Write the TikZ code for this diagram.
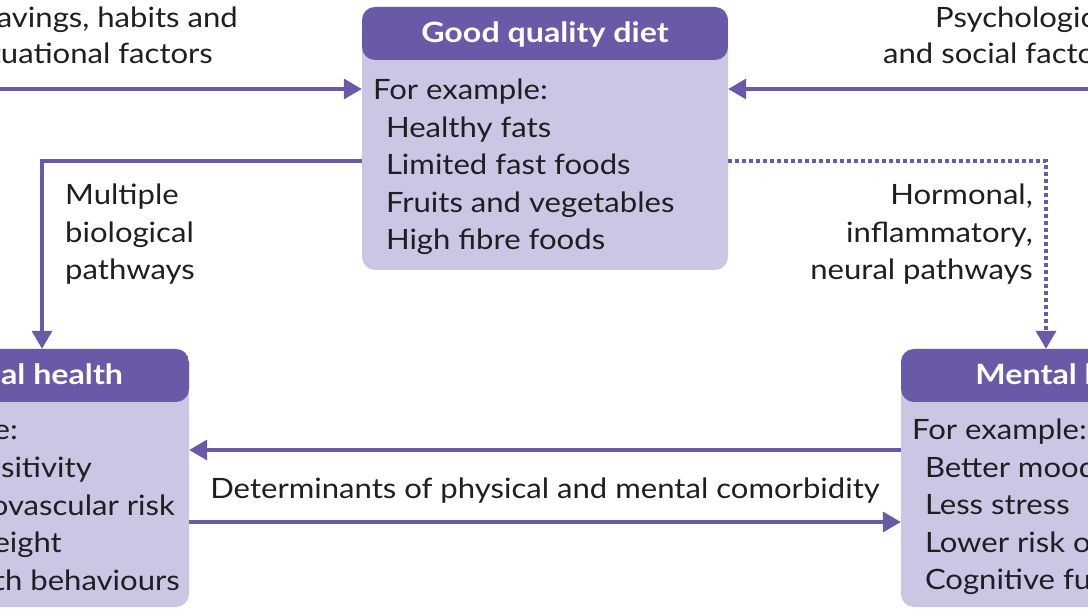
\documentclass[tikz,border=0pt]{standalone}
\usepackage{fontspec}
\setmainfont{Lato}[FakeStretch=1.11, BoldFeatures={FakeStretch=1.15}]
\usetikzlibrary{arrows.meta,calc}
\definecolor{diethead}{RGB}{106,89,166}
\definecolor{dietbody}{RGB}{204,198,228}
\definecolor{txt}{RGB}{30,30,35}

\begin{document}
\begin{tikzpicture}
  [
    x=1pt, y=-1pt,
    every node/.style={inner sep=0pt, text=txt, font=\fontsize{28}{36}\selectfont},
    box/.style 2 args={fill=dietbody, rounded corners=13pt, minimum width=#1, minimum height=#2,
      path picture={\fill[diethead] (path picture bounding box.north west) rectangle ([yshift=-53pt]path picture bounding box.north east);}},
    title/.style={anchor=base, text=white, font=\fontsize{28}{36}\selectfont\bfseries},
    lbl/.style={anchor=base west},
    rlbl/.style={anchor=base east},
    link/.style={draw=diethead, line width=3.5pt, -{Triangle[length=18pt,width=20pt]}},
    dots/.style={link, dash pattern=on 4pt off 3pt}
  ]
  \useasboundingbox (0,0) rectangle (1088,612);
  \clip (0,0) rectangle (1088,612);

  % boxes
  \node [box={366pt}{263pt}] (diet) at (545,138.5) {};
  \node [box={354pt}{258pt}] (phys) at (12,478) {};
  \node [box={354pt}{258pt}] (ment) at (1078,478) {};

  \node [title] (dietT) at ([yshift=-36pt]diet.north) {Good quality diet};
  \node [title] (physT) at ([xshift=4pt,yshift=-36pt]phys.north) {Physical health};
  \node [title] (mentT) at ([xshift=-3pt,yshift=-36pt]ment.north) {Mental health};

  \node [lbl] (dietE) at ([xshift=11pt,yshift=-93pt]diet.north west) {For example:};
  \foreach \txt [count=\i] in {Healthy fats, Limited fast foods, Fruits and vegetables, High fibre foods}{
    \node [lbl] (diet\i) at ([xshift=24pt,yshift=-93pt-37.5pt*\i]diet.north west) {\txt};
  }
  \node [rlbl] (physE) at (18,440) {For example:};
  \foreach \txt/\xe [count=\i] in {Insulin sensitivity/92, Lower cardiovascular risk/175, Healthy weight/62, Better health behaviours/180}{
    \node [rlbl] (phys\i) at (\xe,440+37.5*\i) {\txt};
  }
  \node [lbl] (mentE) at ([xshift=11pt,yshift=-91pt]ment.north west) {For example:};
  \foreach \txt [count=\i] in {Better mood, Less stress, Lower risk of depression, Cognitive function}{
    \node [lbl] (ment\i) at ([xshift=24pt,yshift=-91pt-37.5pt*\i]ment.north west) {\txt};
  }

  % outside factors
  \node [rlbl] (crav1) at (238,28) {Cravings, habits and};
  \node [rlbl] (crav2) at (213,63.5) {situational factors};
  \node [lbl] (psy2) at (883,63.5) {and social factors};
  \node [lbl] (psy1) at (935,28) {Psychological};
  \coordinate (inL) at (-30,89);
  \coordinate (inR) at (1120,89);
  \draw [link] (inL) -- (inL -| diet.west);
  \draw [link] (inR) -- (inR -| diet.east);

  % pathways
  \draw [link] ([yshift=-22.5pt]diet.west) -| ([xshift=30pt]phys.north);
  \draw [dots] ([yshift=-22.5pt]diet.east) -| ([xshift=-32pt]ment.north);
  \foreach \txt [count=\i] in {Multiple, biological, pathways}{
    \node [lbl] (bio\i) at (65,167.5+37.5*\i) {\txt};
  }
  \foreach \txt [count=\i] in {{Hormonal,}, {inflammatory,}, neural pathways}{
    \node [rlbl] (hor\i) at (1033,167.5+37.5*\i) {\txt};
  }

  % comorbidity
  \draw [link] ([yshift=28pt]ment.west) -- ([yshift=28pt]phys.east);
  \draw [link] ([yshift=-44pt]phys.east) -- ([yshift=-44pt]ment.west);
  \node [anchor=base] (det) at (545,498) {Determinants of physical and mental comorbidity};

\end{tikzpicture}
\end{document}
